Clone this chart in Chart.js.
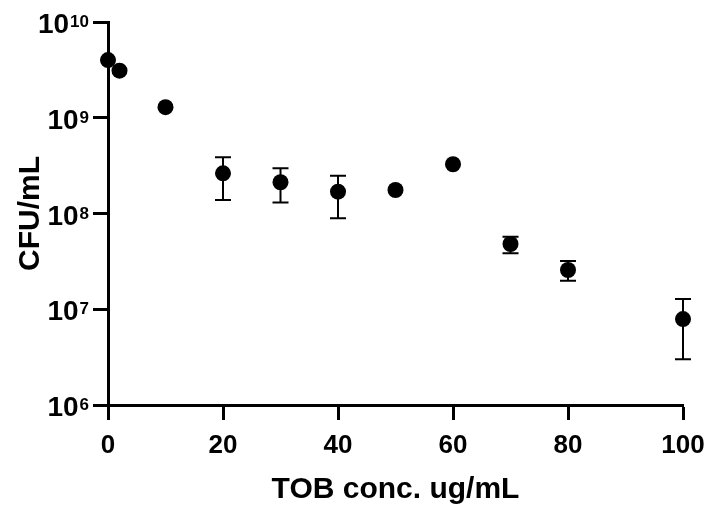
<!DOCTYPE html>
<html lang="en">
<head>
    <meta charset="UTF-8">
    <title>CFU/mL vs TOB conc.</title>
    <style>
        body { margin: 0; background: #fff; }
        canvas { display: block; }
    </style>
</head>
<body>
    <canvas id="grafica" width="712" height="512"></canvas>

    <script src="https://cdn.jsdelivr.net/npm/chart.js"></script>
    <script>
        // data
        const tobConc = [0, 2, 10, 20, 30, 40, 50, 60, 70, 80, 100];
        const cfuMean = [4.0e9, 3.1e9, 1.29e9, 2.63e8, 2.12e8, 1.69e8, 1.76e8, 3.27e8, 4.8e7, 2.57e7, 7.9e6];
        const cfuUpper = [null, null, null, 3.87e8, 2.97e8, 2.48e8, null, null, 5.7e7, 3.19e7, 1.28e7];
        const cfuLower = [null, null, null, 1.38e8, 1.30e8, 8.9e7, null, null, 3.84e7, 1.99e7, 3.0e6];

        const yTicks = [1e6, 1e7, 1e8, 1e9, 1e10];
        const yTickExp = ['6', '7', '8', '9', '10'];
        const xTicks = [0, 20, 40, 60, 80, 100];

        const FONT = '"Liberation Sans", Arial, sans-serif';

        const puntos = tobConc.map((x, i) => ({ x: x, y: cfuMean[i] }));

        const errorBars = {
            id: 'errorBars',
            beforeDatasetsDraw(chart) {
                const ctx = chart.ctx;
                const xs = chart.scales.x, ys = chart.scales.y;
                ctx.save();
                ctx.strokeStyle = '#000';
                ctx.lineWidth = 2;
                tobConc.forEach(function(x, i) {
                    if (cfuUpper[i] === null) return;
                    let px = xs.getPixelForValue(x);
                    let top = ys.getPixelForValue(cfuUpper[i]);
                    let bot = ys.getPixelForValue(cfuLower[i]);
                    ctx.beginPath();
                    ctx.moveTo(px, top); ctx.lineTo(px, bot);
                    ctx.moveTo(px - 8, top); ctx.lineTo(px + 8, top);
                    ctx.moveTo(px - 8, bot); ctx.lineTo(px + 8, bot);
                    ctx.stroke();
                });
                ctx.restore();
            }
        };

        const etiquetas = {
            id: 'etiquetas',
            afterDraw(chart) {
                const ctx = chart.ctx;
                const xs = chart.scales.x, ys = chart.scales.y;
                ctx.save();
                ctx.fillStyle = '#000';
                ctx.textBaseline = 'alphabetic';

                // y tick labels 10^n
                yTicks.forEach(function(v, i) {
                    let py = ys.getPixelForValue(v);
                    ctx.font = 'bold 17px ' + FONT;
                    ctx.textAlign = 'right';
                    let expW = ctx.measureText(yTickExp[i]).width;
                    ctx.fillText(yTickExp[i], 89, py + 5);
                    ctx.font = 'bold 28px ' + FONT;
                    ctx.fillText('10', 89 - expW - 1, py + 11);
                });

                // x tick labels
                ctx.font = 'bold 26px ' + FONT;
                ctx.textAlign = 'center';
                xTicks.forEach(function(v) {
                    ctx.fillText(String(v), xs.getPixelForValue(v), 453);
                });

                // axis titles
                ctx.font = 'bold 30px ' + FONT;
                ctx.fillText('TOB conc. ug/mL', (chart.chartArea.left + chart.chartArea.right) / 2, 498);

                ctx.translate(39, (chart.chartArea.top + chart.chartArea.bottom) / 2);
                ctx.rotate(-Math.PI / 2);
                ctx.fillText('CFU/mL', 0, 0);
                ctx.restore();
            }
        };

        new Chart(document.getElementById('grafica').getContext('2d'), {
            type: 'scatter',
            data: {
                datasets: [{
                    data: puntos,
                    backgroundColor: '#000',
                    borderWidth: 0,
                    pointRadius: 8,
                    pointHoverRadius: 8,
                    clip: false
                }]
            },
            options: {
                responsive: false,
                animation: false,
                events: [],
                layout: { padding: { top: 22, right: 29, left: 0, bottom: 0 } },
                plugins: {
                    legend: { display: false },
                    tooltip: { enabled: false }
                },
                scales: {
                    x: {
                        type: 'linear',
                        min: 0,
                        max: 100,
                        afterBuildTicks: s => { s.ticks = xTicks.map(v => ({ value: v })); },
                        afterFit: s => { s.height = 107; },
                        ticks: { display: false },
                        grid: { drawOnChartArea: false, tickLength: 15, tickWidth: 3, tickColor: '#000' },
                        border: { color: '#000', width: 3 }
                    },
                    y: {
                        type: 'logarithmic',
                        min: 1e6,
                        max: 1e10,
                        afterBuildTicks: s => { s.ticks = yTicks.map(v => ({ value: v })); },
                        afterFit: s => { s.width = 108; },
                        ticks: { display: false },
                        grid: { drawOnChartArea: false, tickLength: 15, tickWidth: 3, tickColor: '#000' },
                        border: { color: '#000', width: 3 }
                    }
                }
            },
            plugins: [errorBars, etiquetas]
        });
    </script>
</body>
</html>
